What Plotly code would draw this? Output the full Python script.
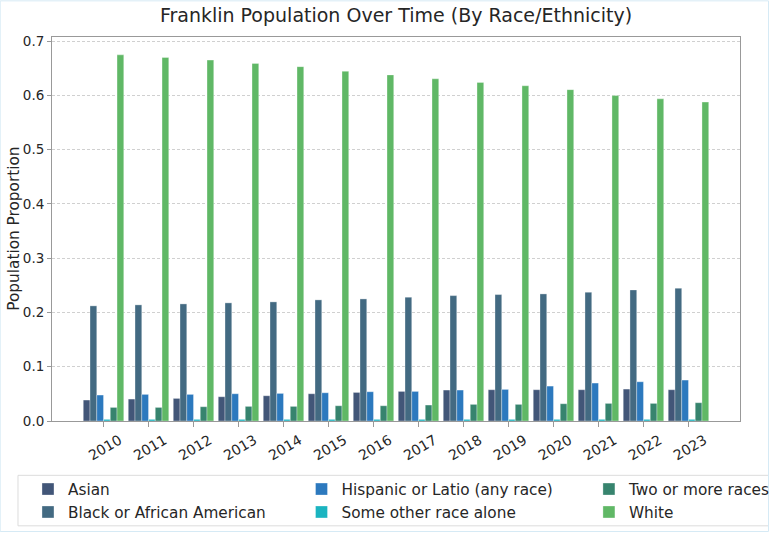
import plotly.graph_objects as go

# ---- data ----
years = [2010, 2011, 2012, 2013, 2014, 2015, 2016, 2017, 2018, 2019, 2020, 2021, 2022, 2023]
year_labels = ["2010", "2011", "2012", "2013", "2014", "2015", "2016",
               "2017", "2018", "2019", "2020", "2021", "2022", "2023"]
asian = [0.0386, 0.0404, 0.0416, 0.0447, 0.0465, 0.0502, 0.0526, 0.0545, 0.0570, 0.0576, 0.0576, 0.0576, 0.0588, 0.0576]
black = [0.2121, 0.2139, 0.2157, 0.2176, 0.2194, 0.2231, 0.2249, 0.2280, 0.2310, 0.2329, 0.2341, 0.2372, 0.2415, 0.2446]
hispanic = [0.0478, 0.0490, 0.0490, 0.0502, 0.0508, 0.0520, 0.0539, 0.0545, 0.0570, 0.0582, 0.0643, 0.0699, 0.0723, 0.0754]
other = [0.0030, 0.0030, 0.0030, 0.0030, 0.0030, 0.0030, 0.0030, 0.0030, 0.0030, 0.0030, 0.0030, 0.0030, 0.0030, 0.0030]
two_more = [0.0250, 0.0250, 0.0263, 0.0269, 0.0269, 0.0281, 0.0281, 0.0294, 0.0306, 0.0306, 0.0318, 0.0324, 0.0324, 0.0337]
white = [0.6745, 0.6696, 0.6648, 0.6588, 0.6528, 0.6443, 0.6376, 0.6304, 0.6238, 0.6176, 0.6104, 0.5995, 0.5935, 0.5875]
y_ticks = [0.0, 0.1, 0.2, 0.3, 0.4, 0.5, 0.6, 0.7]

series = [
    ("Asian", asian, "#425678", "legend"),
    ("Black or African American", black, "#436a82", "legend"),
    ("Hispanic or Latio (any race)", hispanic, "#2c79be", "legend2"),
    ("Some other race alone", other, "#1bb4c0", "legend2"),
    ("Two or more races", two_more, "#37846e", "legend3"),
    ("White", white, "#60b866", "legend3"),
]

# plot area geometry in pixels (for paper coordinate conversion)
W, H = 769, 533
L, R, T, B = 52.3, 740.0, 36.7, 421.3
pw, ph = R - L, B - T


def px_x(px):
    return (px - L) / pw


def px_y(py):
    return (B - py) / ph


TXT = "#262626"
FONT = "DejaVu Sans"

fig = go.Figure()
for name, vals, color, leg in series:
    fig.add_trace(go.Bar(
        x=years, y=vals, name=name, legend=leg, legendgroup=name,
        marker=dict(color=color, line=dict(color="rgba(255,255,255,0.55)", width=0.6)),
    ))

legend_common = dict(
    orientation="v", xanchor="left", yanchor="top",
    font=dict(family=FONT, size=15.3, color=TXT),
    bgcolor="rgba(0,0,0,0)", borderwidth=0, tracegroupgap=0,
)

fig.update_layout(
    width=W, height=H,
    margin=dict(l=L, r=W - R, t=T, b=H - B, autoexpand=False),
    paper_bgcolor="white", plot_bgcolor="white",
    barmode="group", bargap=0.1, bargroupgap=0.0,
    font=dict(family=FONT, color=TXT),
    title=dict(text="Franklin Population Over Time (By Race/Ethnicity)",
               x=0.5, xref="paper", xanchor="center",
               y=1 - 15.5 / H, yref="container", yanchor="middle",
               font=dict(family=FONT, size=19, color=TXT)),
    legend=dict(x=px_x(28.3), y=px_y(473.0), **legend_common),
    legend2=dict(x=px_x(301.7), y=px_y(473.0), **legend_common),
    legend3=dict(x=px_x(589.0), y=px_y(473.0), **legend_common),
    showlegend=True,
)

fig.update_xaxes(
    range=[years[0] - 1.145, years[-1] + 1.145],
    tickvals=years, ticktext=year_labels, tickangle=-30,
    ticklabelshift=16,
    tickfont=dict(family=FONT, size=14, color=TXT),
    ticks="outside", ticklen=5, tickcolor="#999999", tickwidth=1,
    showgrid=False, zeroline=False,
    showline=True, linecolor="#999999", linewidth=1, mirror=True,
)
fig.update_yaxes(
    range=[0, 0.7074],
    tickvals=y_ticks, tickformat=".1f",
    tickfont=dict(family=FONT, size=13.5, color=TXT),
    ticks="outside", ticklen=4, tickcolor="#999999", tickwidth=1,
    showgrid=True, gridcolor="#d0d0d0", gridwidth=0.8, griddash="3px,2px",
    zeroline=False,
    showline=True, linecolor="#999999", linewidth=1, mirror=True,
)

# y-axis title placed precisely as an annotation
fig.add_annotation(text="Population Proportion", xref="paper", yref="paper",
                   x=px_x(14.0), y=0.5, xanchor="center", yanchor="middle",
                   textangle=-90, showarrow=False,
                   font=dict(family=FONT, size=15.3, color=TXT))

# legend frame (matplotlib-style box)
fig.add_shape(type="rect", xref="paper", yref="paper",
              x0=px_x(18.3), x1=px_x(790), y0=px_y(526.3), y1=px_y(475.7),
              line=dict(color="#dcdcdc", width=1), fillcolor="rgba(0,0,0,0)", layer="below")
# outer figure frame
fig.add_shape(type="rect", xref="paper", yref="paper",
              x0=px_x(0.5), x1=px_x(768.5), y0=px_y(532.0), y1=px_y(0.5),
              line=dict(color="#d6eaf5", width=1), fillcolor="rgba(0,0,0,0)", layer="below")

fig.write_html("out.html", config={"displayModeBar": False},
               post_script="document.body.style.margin='0';document.body.style.padding='0';")
